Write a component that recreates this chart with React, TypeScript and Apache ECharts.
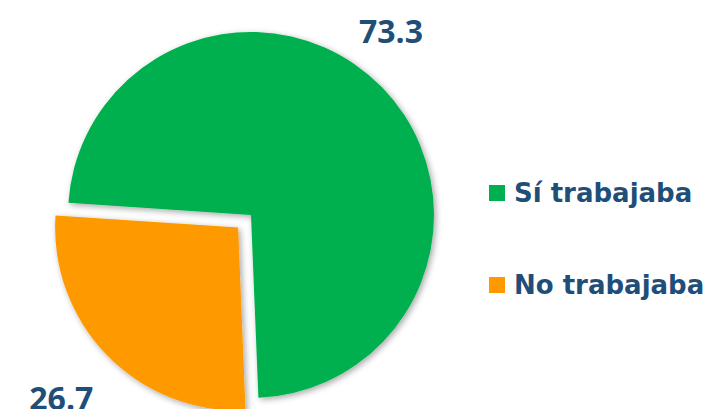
import React, { useEffect, useRef } from "react";
import * as echarts from "echarts";

const categories = ["Sí trabajaba", "No trabajaba"];
const values = [73.3, 26.7];
const colors = ["#00B050", "#FF9900"];
const labelText = ["73.3", "26.7"];

export default function App() {
  const ref = useRef<HTMLDivElement>(null);
  useEffect(() => {
    document.body.style.margin = "0";
    const chart = echarts.init(ref.current!, null, { renderer: "svg" });
    const labelPos = [
      { x: 391, y: 14, dy: 0 },
      { x: 59, y: 386, dy: 16 },
    ];
    const legendText = {
      fontFamily: "DejaVu Sans",
      fontWeight: "bold",
      fontSize: 26,
      color: "#1F4E79",
      padding: [0, 0, 0, 4],
    };
    chart.setOption({
      animation: false,
      backgroundColor: "#ffffff",
      legend: [
        {
          data: [categories[0]],
          orient: "vertical",
          left: 484,
          top: 175,
          itemWidth: 16,
          itemHeight: 16,
          icon: "rect",
          selectedMode: false,
          textStyle: legendText,
        },
        {
          data: [categories[1]],
          orient: "vertical",
          left: 484,
          top: 267,
          itemWidth: 16,
          itemHeight: 16,
          icon: "rect",
          selectedMode: false,
          textStyle: legendText,
        },
      ],
      series: [
        {
          type: "pie",
          center: [251, 215],
          radius: 183,
          startAngle: 176.2,
          clockwise: true,
          avoidLabelOverlap: false,
          selectedMode: "single",
          selectedOffset: 18,
          emphasis: { disabled: true },
          itemStyle: {
            shadowBlur: 6,
            shadowColor: "rgba(0,0,0,0.35)",
            shadowOffsetX: 2,
            shadowOffsetY: 2,
          },
          label: {
            show: true,
            position: "outside",
            formatter: (p: any) => labelText[p.dataIndex],
            fontFamily: "Open Sans",
            fontWeight: "bold",
            fontSize: 32,
            lineHeight: 32,
            color: "#1F4E79",
          },
          labelLine: { show: false },
          labelLayout: (p: any) => ({
            x: labelPos[p.dataIndex].x,
            y: labelPos[p.dataIndex].y,
            dy: labelPos[p.dataIndex].dy,
            align: "center",
            verticalAlign: "top",
            hideOverlap: false,
            moveOverlap: null,
          }),
          data: categories.map((c, i) => ({
            name: c,
            value: values[i],
            selected: i === 1,
            itemStyle: { color: colors[i] },
          })),
        },
      ],
    });
    return () => chart.dispose();
  }, []);
  return <div ref={ref} style={{ width: 707, height: 409 }} />;
}
